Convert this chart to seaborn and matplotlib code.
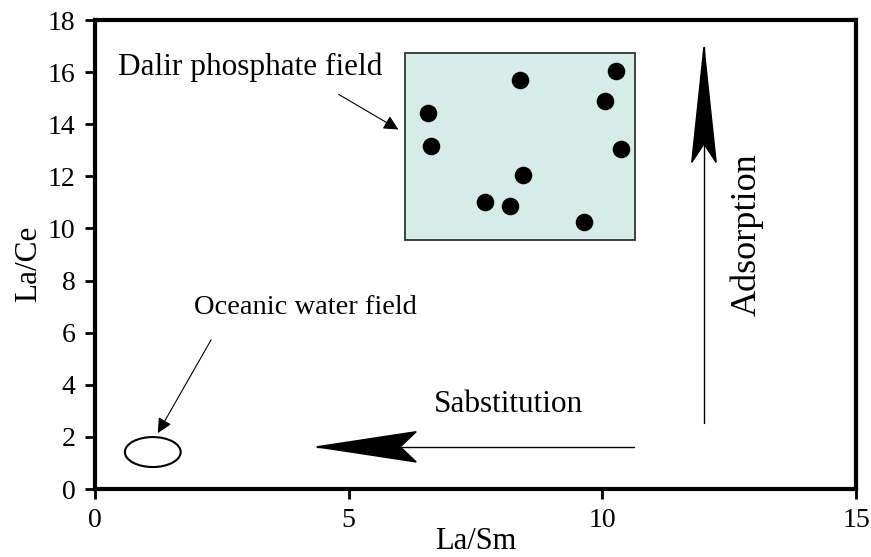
import numpy as np
import pandas as pd
import matplotlib
matplotlib.use('Agg')
import matplotlib.pyplot as plt
import seaborn as sns
from matplotlib.patches import Rectangle, Ellipse, Polygon

# Dalir phosphate samples
la_sm = [6.56, 6.63, 8.37, 10.26, 10.05, 10.37, 8.43, 7.68, 8.17, 9.63]
la_ce = [14.42, 13.16, 15.69, 16.05, 14.90, 13.04, 12.05, 11.00, 10.86, 10.26]

# fields
dalir_box = [6.10, 9.55, 10.65, 16.72]      # x0, y0, x1, y1
ocean_center = [1.14, 1.42]
ocean_size = [1.1, 1.15]

# process arrows (tail, tip)
sub_tail = [10.63, 1.62]
sub_tip = [4.37, 1.62]
ads_tail = [12.0, 2.54]
ads_tip = [12.0, 16.96]

xticks = [0, 5, 10, 15]
yticks = [0, 2, 4, 6, 8, 10, 12, 14, 16, 18]

sns.set_style('ticks')
plt.rcParams['font.family'] = ['Liberation Serif', 'DejaVu Serif']
plt.rcParams['text.color'] = 'black'
plt.rcParams['axes.labelcolor'] = 'black'
plt.rcParams['xtick.color'] = 'black'
plt.rcParams['ytick.color'] = 'black'
plt.rcParams['axes.edgecolor'] = 'black'

fig = plt.figure(figsize=(8.71, 5.57), dpi=100)
ax = fig.add_axes([0.109, 0.122, 0.874, 0.842])

ax.add_patch(Rectangle((dalir_box[0], dalir_box[1]), dalir_box[2] - dalir_box[0],
                       dalir_box[3] - dalir_box[1], facecolor='#d6ece6',
                       edgecolor='#333333', lw=1.3, zorder=1))

df = pd.DataFrame({'La/Sm': la_sm, 'La/Ce': la_ce})
sns.scatterplot(data=df, x='La/Sm', y='La/Ce', ax=ax, color='black', s=160,
                edgecolor='black', linewidth=0, zorder=3)

ax.add_patch(Ellipse(ocean_center, ocean_size[0], ocean_size[1], facecolor='none',
                     edgecolor='black', lw=1.5, zorder=2))


def stealth(tail, tip, head_len, half_w, notch=0.84):
    # thin shaft plus a notched filled head
    ax.plot([tail[0], tip[0]], [tail[1], tip[1]], color='black', lw=1.0, zorder=2)
    d = np.array(tip) - np.array(tail)
    u = d / np.hypot(*d)
    n = np.array([-u[1], u[0]])
    tip = np.array(tip)
    back = tip - u * head_len
    pts = [tip, back + n * half_w, tip - u * head_len * notch, back - n * half_w]
    ax.add_patch(Polygon(pts, closed=True, facecolor='black', edgecolor='black', zorder=3))


stealth(sub_tail, sub_tip, 1.96, 0.58)
stealth(ads_tail, ads_tip, 4.42, 0.24)

ax.annotate('', xy=(5.98, 13.8), xytext=(4.8, 15.15),
            arrowprops=dict(arrowstyle='-|>', color='black', lw=0.8,
                            mutation_scale=22, shrinkA=0, shrinkB=0))
ax.annotate('', xy=(1.24, 2.15), xytext=(2.29, 5.73),
            arrowprops=dict(arrowstyle='-|>', color='black', lw=0.8,
                            mutation_scale=22, shrinkA=0, shrinkB=0))

ax.text(0.45, 16.2, 'Dalir phosphate field', fontsize=22.5, va='center', ha='left')
ax.text(1.96, 6.96, 'Oceanic water field', fontsize=20.5, va='center', ha='left')
ax.text(6.67, 3.23, 'Sabstitution', fontsize=22.5, va='center', ha='left')
ax.text(12.85, 9.75, 'Adsorption', fontsize=26, va='center', ha='center', rotation=90)

ax.set_xlim(0, 15)
ax.set_ylim(0, 18)
ax.set_xticks(xticks)
ax.set_yticks(yticks)
ax.tick_params(labelsize=20, length=7, width=2, direction='out')
ax.tick_params(axis='x', pad=7)
ax.tick_params(axis='y', pad=7)
ax.set_xlabel('La/Sm', fontsize=22, labelpad=-5)
ax.set_ylabel('La/Ce', fontsize=22.5)
ax.yaxis.set_label_coords(-0.068, 0.48)
for sp in ax.spines.values():
    sp.set_linewidth(3)
    sp.set_visible(True)

fig.savefig('out.png', dpi=100)
